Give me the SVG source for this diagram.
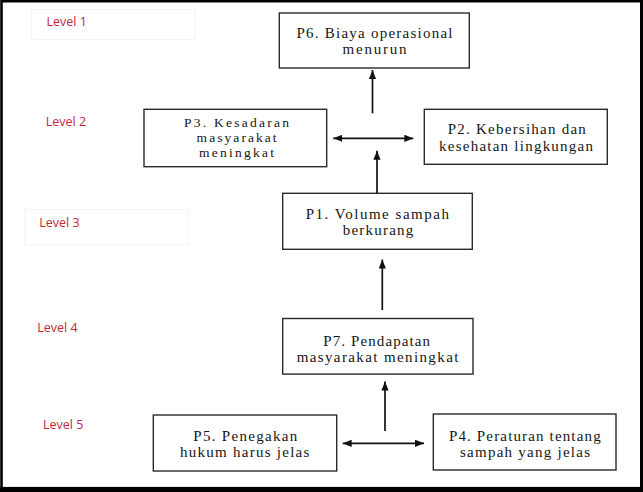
<svg xmlns="http://www.w3.org/2000/svg" width="643" height="492" viewBox="0 0 643 492">
  <defs>
    <marker id="ah" viewBox="0 0 10 8" refX="10" refY="4" markerWidth="9" markerHeight="7.5" markerUnits="userSpaceOnUse" orient="auto-start-reverse">
      <path d="M0,0 L10,4 L0,8 Z" fill="#111"/>
    </marker>
  </defs>
  <style>
    .box { fill: #ffffff; stroke: #2a2a2a; stroke-width: 1.4; }
    .t { font-family: "Liberation Serif", "Times New Roman", serif; font-size: 15px; fill: #161616; text-anchor: middle; }
    .t3 { font-size: 13.5px; }
    .lvl { font-family: "Open Sans", "Liberation Sans", sans-serif; font-size: 12.5px; fill: #c3283d; }
    .lvlbox { fill: none; stroke: #f2f2f2; stroke-width: 1; }
    .arr { stroke: #111; stroke-width: 1.7; fill: none; }
  </style>
  <rect x="0" y="0" width="643" height="492" fill="#ffffff"/>
  <!-- outer frame -->
  <rect x="1.5" y="1.2" width="639.8" height="487" fill="none" stroke="#000" stroke-width="2.6"/>
  <rect x="640" y="0" width="3" height="492" fill="#000"/>
  <rect x="0" y="487.5" width="643" height="4.5" fill="#000"/>

  <!-- level labels -->
  <g id="levels">
    <rect class="lvlbox" x="31.7" y="9.3" width="163.3" height="30"/>
    <rect class="lvlbox" x="25" y="209.3" width="163.3" height="35.7"/>
    <text class="lvl" x="46.5" y="26">Level 1</text>
    <text class="lvl" x="45.7" y="126">Level 2</text>
    <text class="lvl" x="39.3" y="227">Level 3</text>
    <text class="lvl" x="37.3" y="332">Level 4</text>
    <text class="lvl" x="43" y="428.5">Level 5</text>
  </g>

  <g id="P6">
    <rect class="box" x="279.3" y="13" width="190" height="55"/>
    <text class="t" x="374.5" y="37.5" textLength="156" lengthAdjust="spacing">P6. Biaya operasional</text>
    <text class="t" x="374.5" y="53.5" textLength="64" lengthAdjust="spacing">menurun</text>
  </g>
  <g id="P3">
    <rect class="box" x="144" y="109.3" width="182.7" height="57.4"/>
    <text class="t t3" x="236.6" y="127" textLength="105" lengthAdjust="spacing">P3. Kesadaran</text>
    <text class="t t3" x="236.6" y="142" textLength="80" lengthAdjust="spacing">masyarakat</text>
    <text class="t t3" x="236.6" y="157" textLength="75" lengthAdjust="spacing">meningkat</text>
  </g>
  <g id="P2">
    <rect class="box" x="424.3" y="109.3" width="183" height="55"/>
    <text class="t" x="516.8" y="134.3" textLength="138" lengthAdjust="spacing">P2. Kebersihan dan</text>
    <text class="t" x="516" y="151" textLength="154" lengthAdjust="spacing">kesehatan lingkungan</text>
  </g>
  <g id="P1">
    <rect class="box" x="282.7" y="193.3" width="189.6" height="56"/>
    <text class="t" x="377.3" y="219" textLength="143.3" lengthAdjust="spacing">P1. Volume sampah</text>
    <text class="t" x="378" y="235.3" textLength="70.7" lengthAdjust="spacing">berkurang</text>
  </g>
  <g id="P7">
    <rect class="box" x="282.7" y="318.5" width="190.3" height="55.6"/>
    <text class="t" x="376.7" y="346" textLength="106.7" lengthAdjust="spacing">P7. Pendapatan</text>
    <text class="t" x="377.5" y="361.5" textLength="161.7" lengthAdjust="spacing">masyarakat meningkat</text>
  </g>
  <g id="P5">
    <rect class="box" x="153.3" y="415" width="183.4" height="56"/>
    <text class="t" x="245.3" y="441" textLength="104" lengthAdjust="spacing">P5. Penegakan</text>
    <text class="t" x="244.7" y="456.5" textLength="129.3" lengthAdjust="spacing">hukum harus jelas</text>
  </g>
  <g id="P4">
    <rect class="box" x="433.3" y="414" width="182.7" height="56"/>
    <text class="t" x="524.8" y="440.5" textLength="151.7" lengthAdjust="spacing">P4. Peraturan tentang</text>
    <text class="t" x="525" y="456.5" textLength="130" lengthAdjust="spacing">sampah yang jelas</text>
  </g>

  <g id="connectors">
    <line class="arr" x1="372.5" y1="113.3" x2="372.5" y2="70" marker-end="url(#ah)"/>
    <line class="arr" x1="333.3" y1="138.3" x2="413.3" y2="138.3" marker-start="url(#ah)" marker-end="url(#ah)"/>
    <line class="arr" x1="377" y1="193.3" x2="377" y2="150.7" marker-end="url(#ah)"/>
    <line class="arr" x1="382.3" y1="310" x2="382.3" y2="259.5" marker-end="url(#ah)"/>
    <line class="arr" x1="385" y1="431" x2="385" y2="381.5" marker-end="url(#ah)"/>
    <line class="arr" x1="342.7" y1="443.3" x2="424" y2="443.3" marker-start="url(#ah)" marker-end="url(#ah)"/>
  </g>
</svg>
